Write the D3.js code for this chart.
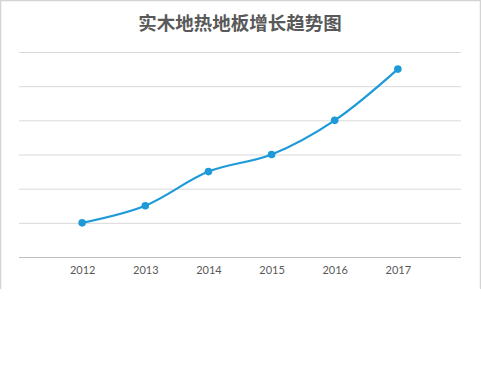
<!DOCTYPE html>
<html>
<head>
<meta charset="utf-8">
<script src="https://cdn.jsdelivr.net/npm/d3@7"></script>
<style>
	body { margin: 0; background: #fff; }
	svg { display: block; }
</style>
</head>
<body>
<svg id="lineChart" width="481" height="374"></svg>
<script>
// chart data
const title = "实木地热地板增长趋势图"
const years = ["2012", "2013", "2014", "2015", "2016", "2017"]
const values = [1, 1.5, 2.5, 3, 4, 5.5]
const yTicks = [0, 1, 2, 3, 4, 5, 6]

const line_color = "#1e9ad9"

let svg = d3.select("#lineChart")

// frame (bottom edge is cut off in the original)
svg.append("path")
	.attr("d", "M0.5,289V0.5H480.5V289")
	.attr("fill", "none")
	.attr("stroke", "#d4d4d4")
	.attr("stroke-width", 1.5)

// title
svg.append("text")
	.attr("x", 240)
	.attr("y", 30)
	.attr("text-anchor", "middle")
	.style("font-family", "'Noto Sans CJK SC', sans-serif")
	.style("font-size", "18.5px")
	.style("font-weight", "bold")
	.style("fill", "#595959")
	.text(title)

let margin = { top: 52, left: 19 },
	width = 442,
	height = 205

let chart = svg.append("g")
	.attr("transform", "translate(" + margin.left + "," + margin.top + ")")

// scales
let xScale = d3.scalePoint()
	.domain(years)
	.range([0, width])
	.padding(1)

let yScale = d3.scaleLinear()
	.domain([0, 6])
	.range([height, 0])

// gridlines
chart.append("g")
	.attr("class", "grid")
	.call(d3.axisLeft(yScale).tickValues(yTicks).tickSize(-width).tickFormat(""))
	.call(g => g.select(".domain").remove())
	.call(g => g.selectAll(".tick line")
		.attr("stroke", d => d === 0 ? "#bfbfbf" : "#d9d9d9")
		.attr("stroke-width", 1))

// x-axis labels
chart.append("g")
	.attr("class", "axis axis-x")
	.attr("transform", "translate(0," + height + ")")
	.call(d3.axisBottom(xScale).tickSize(0).tickPadding(9))
	.call(g => g.select(".domain").remove())
	.call(g => g.selectAll("text")
		.style("font-family", "Lato, 'Open Sans', sans-serif")
		.style("font-size", "11px")
		.style("fill", "#595959"))

// smooth line
let line = d3.line()
	.x((d, i) => xScale(years[i]))
	.y(d => yScale(d))
	.curve(d3.curveCatmullRom.alpha(0.5))

chart.append("path")
	.datum(values)
	.attr("fill", "none")
	.attr("stroke", line_color)
	.attr("stroke-width", 2.2)
	.attr("d", line)

chart.selectAll("circle")
	.data(values)
	.join("circle")
	.attr("cx", (d, i) => xScale(years[i]))
	.attr("cy", d => yScale(d))
	.attr("r", 3.8)
	.attr("fill", line_color)
</script>
</body>
</html>
